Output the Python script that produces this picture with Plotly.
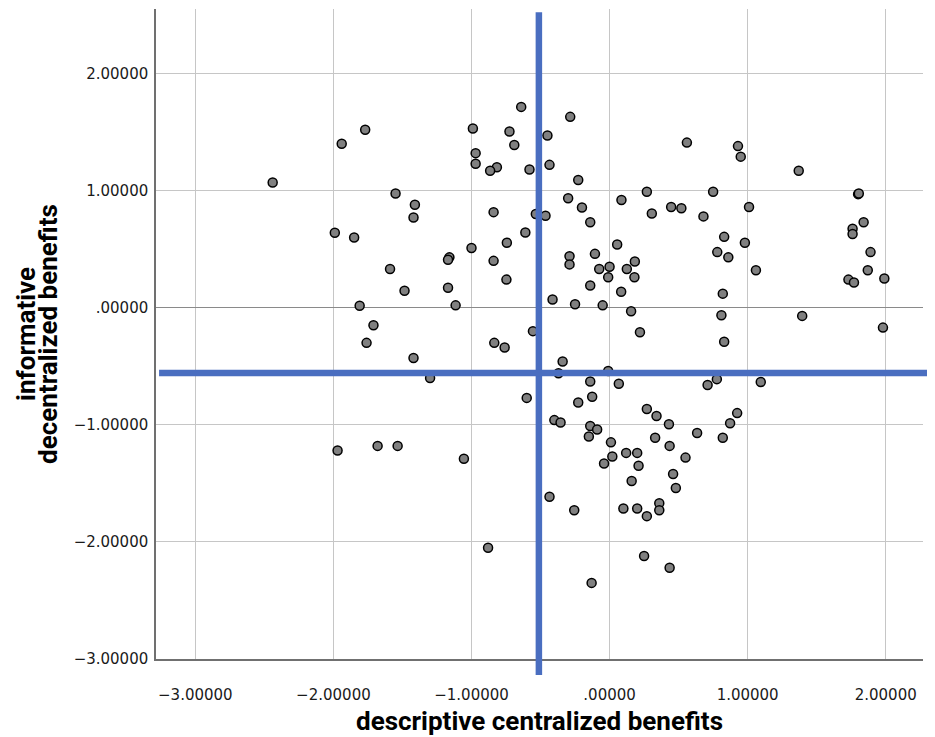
import plotly.graph_objects as go

# descriptive centralized benefits (x) / informative decentralized benefits (y)
desc_x = [
    -1.77, -1.94, -2.44, -1.55, -1.41, -1.42, -1.99, -1.85, -1.59, -1.485,
    -1.81, -1.71, -1.76, -1.42, -1.97, -1.68, -1.535,
    -0.64, -0.285, -0.99, -0.725, -0.45, -0.69, -0.97, -0.97, -0.816, -0.865,
    -0.58, -0.435, -0.227, 0.27, -0.30, 0.086, -0.20, 0.446, -0.84, -0.534,
    -0.464, 0.306, -0.14, -0.61, -0.744, 0.055, -1.0, -1.16, -1.17, -0.29,
    -0.106, -0.84, -0.29, -0.075, 0.0, 0.125, 0.183, -0.01, 0.18, -0.747,
    -1.17, -0.14, 0.084, -1.115, -0.413, -0.25, -0.05, 0.156, 0.22, -0.555,
    -0.835, -0.76,
    -1.30, -0.34, -0.37, -0.01, -0.14, 0.067, -0.60, -0.126, -0.227, 0.27,
    0.34, 0.43, -0.40, -0.355, -0.14, -0.09, -0.15, 0.01, 0.33, 0.435,
    0.12, 0.20, 0.02, -0.04, 0.21, -1.055, 0.16, 0.46, 0.48, -0.435,
    -0.256, 0.10, 0.20, 0.36, 0.36, 0.27, -0.88, 0.25, 0.435, -0.13,
    0.56, 0.93, 0.95, 1.37, 0.75, 1.80, 1.805, 0.52, 1.01, 0.68,
    1.84, 1.76, 1.76, 0.83, 0.98, 0.78, 0.86, 1.89, 1.06, 1.87,
    1.73, 1.77, 1.99, 0.82, 0.81, 1.395, 1.98, 0.83,
    0.777, 0.71, 1.095, 0.924, 0.873, 0.634, 0.82, 0.55,
]
info_y = [
    1.52, 1.40, 1.07, 0.975, 0.88, 0.77, 0.64, 0.60, 0.33, 0.145,
    0.017, -0.15, -0.30, -0.43, -1.22, -1.18, -1.18,
    1.715, 1.63, 1.53, 1.505, 1.47, 1.39, 1.32, 1.23, 1.20, 1.17,
    1.18, 1.22, 1.09, 0.99, 0.935, 0.92, 0.856, 0.86, 0.816, 0.80,
    0.785, 0.805, 0.73, 0.643, 0.555, 0.54, 0.51, 0.43, 0.41, 0.44,
    0.46, 0.40, 0.37, 0.33, 0.35, 0.33, 0.395, 0.26, 0.26, 0.24,
    0.17, 0.19, 0.137, 0.02, 0.07, 0.03, 0.02, -0.03, -0.21, -0.20,
    -0.30, -0.34,
    -0.60, -0.46, -0.56, -0.54, -0.63, -0.65, -0.77, -0.76, -0.81, -0.865,
    -0.925, -0.995, -0.96, -0.98, -1.01, -1.04, -1.10, -1.15, -1.11, -1.18,
    -1.24, -1.24, -1.27, -1.33, -1.35, -1.29, -1.48, -1.42, -1.54, -1.615,
    -1.73, -1.715, -1.715, -1.67, -1.73, -1.78, -2.05, -2.12, -2.22, -2.35,
    1.41, 1.38, 1.29, 1.17, 0.99, 0.97, 0.975, 0.85, 0.86, 0.78,
    0.73, 0.675, 0.63, 0.605, 0.555, 0.475, 0.43, 0.475, 0.32, 0.32,
    0.24, 0.215, 0.25, 0.12, -0.065, -0.07, -0.17, -0.29,
    -0.61, -0.66, -0.635, -0.90, -0.987, -1.07, -1.11, -1.28,
]

# reference lines
x_ref = -0.512
y_ref = -0.557

x_ticks = [-3, -2, -1, 0, 1, 2]
x_labels = ['−3.00000', '−2.00000', '−1.00000', '.00000', '1.00000', '2.00000']
y_ticks = [-3, -2, -1, 0, 1, 2]
y_labels = ['−3.00000', '−2.00000', '−1.00000', '.00000', '1.00000', '2.00000']

blue = '#4a6ec0'
title_font = dict(family='Liberation Sans Narrow, Roboto, sans-serif', size=26, color='black')
tick_font = dict(family='DejaVu Sans, sans-serif', size=15, color='#1a1a1a')

# page body adds an 8px margin, so the figure is sized/placed to compensate
W, H = 927, 729
ml, mr, mt, mb = 148, 12, 1, 78
pw, ph = W - ml - mr, H - mt - mb

fig = go.Figure()
fig.add_trace(go.Scatter(
    x=desc_x, y=info_y, mode='markers',
    marker=dict(size=9, color='#808080', line=dict(color='black', width=1.5)),
    showlegend=False,
))

fig.add_shape(type='line', xref='x', yref='paper', x0=x_ref, x1=x_ref,
              y0=-16 / ph, y1=0.995, line=dict(color=blue, width=6.5), layer='above')
fig.add_shape(type='line', xref='paper', yref='y', x0=0.004, x1=1.01,
              y0=y_ref, y1=y_ref, line=dict(color=blue, width=6.5), layer='above')

fig.update_xaxes(range=[-3.285, 2.27], tickvals=x_ticks, ticktext=x_labels,
                 showgrid=True, gridcolor='#c6c6c6', gridwidth=1.3,
                 zeroline=False, showline=True, linecolor='#707070', linewidth=1.5,
                 ticks='', ticklabelstandoff=21, tickfont=tick_font)
fig.update_yaxes(range=[-3.0, 2.551], tickvals=y_ticks, ticktext=y_labels,
                 showgrid=True, gridcolor='#c6c6c6', gridwidth=1.3,
                 zeroline=True, zerolinecolor='#8a8a8a', zerolinewidth=1.3,
                 showline=True, linecolor='#707070', linewidth=1.5,
                 ticks='', ticklabelstandoff=3, tickfont=tick_font)

fig.add_annotation(text='<b>descriptive centralized benefits</b>', xref='paper', yref='paper',
                   x=0.5, y=-62 / ph, showarrow=False, font=title_font,
                   xanchor='center', yanchor='middle')
fig.add_annotation(text='<b>informative</b>', xref='paper', yref='paper',
                   x=(18 - ml) / pw, y=0.5, showarrow=False, font=title_font, textangle=-90,
                   xanchor='center', yanchor='middle')
fig.add_annotation(text='<b>decentralized benefits</b>', xref='paper', yref='paper',
                   x=(40 - ml) / pw, y=0.5, showarrow=False, font=title_font, textangle=-90,
                   xanchor='center', yanchor='middle')

fig.update_layout(width=W, height=H,
                  margin=dict(l=ml, r=mr, t=mt, b=mb),
                  plot_bgcolor='white', paper_bgcolor='white')

fig.write_html('out.html')
